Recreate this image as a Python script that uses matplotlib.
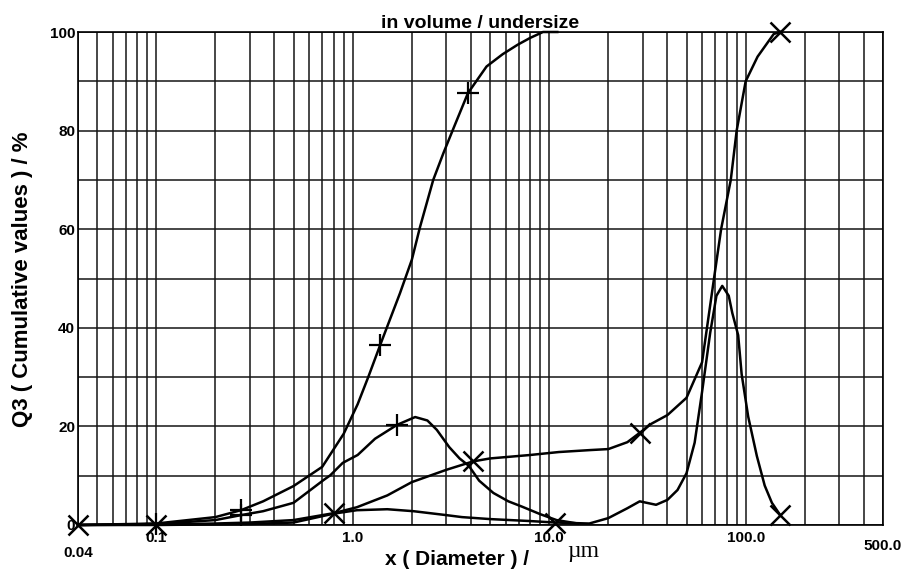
import numpy as np
import matplotlib.pyplot as plt
from matplotlib.ticker import FixedLocator, LogLocator, MultipleLocator, NullFormatter

plt.rcParams['font.family'] = ['Liberation Sans', 'DejaVu Sans']

# fine sample, cumulative (Q3)
a_x = [0.04, 0.1, 0.2, 0.27, 0.35, 0.5, 0.7, 0.9, 1.06, 1.2, 1.38, 1.74, 2.0, 2.2,
       2.57, 2.9, 3.3, 3.86, 4.8, 5.8, 6.9, 8.0, 9.3, 11.0]
a_y = [0, 0.3, 1.6, 3.0, 4.8, 7.9, 11.8, 18.5, 24.5, 30, 36.5, 47, 53.8, 60.4,
       70, 75.5, 81, 87.6, 93, 95.5, 97.4, 98.8, 100, 100]

# fine sample, density
b_x = [0.04, 0.1, 0.2, 0.27, 0.35, 0.5, 0.71, 0.77, 0.89, 1.06, 1.3, 1.68, 2.08, 2.4,
       2.68, 3.1, 3.5, 3.9, 4.4, 5.2, 6.2, 7.3, 9.0, 10.9, 14.0]
b_y = [0, 0.2, 1.0, 2.0, 2.8, 4.5, 9.1, 10.1, 12.6, 14.2, 17.5, 20.3, 21.9, 21.2,
       19.3, 15.8, 13.5, 12.0, 9.0, 6.5, 4.8, 3.7, 2.2, 1.0, 0.3]

# coarse sample, cumulative (Q3)
c_x = [0.04, 0.1, 0.2, 0.3, 0.5, 0.8, 1.05, 1.5, 2.0, 3.0, 4.1, 5.0, 8.0, 11.2, 16.2,
       20, 25, 28.9, 33, 40, 50, 60, 69, 75, 84, 90, 100, 115, 139, 150]
c_y = [0, 0.1, 0.3, 0.5, 1.0, 2.4, 3.6, 6.0, 8.7, 11.2, 12.9, 13.5, 14.2, 14.8, 15.2,
       15.4, 16.8, 18.7, 20.5, 22.3, 25.8, 33, 50, 60, 70, 80, 90, 95, 99.6, 100]

# coarse sample, density
d_x = [0.04, 0.1, 0.3, 0.5, 0.8, 1.05, 1.5, 2.04, 3.0, 3.6, 5.0, 8.0, 10.7, 16, 20, 25,
       28.9, 35, 40, 45, 50, 55, 60, 66, 71, 76, 82, 85.5, 91.6, 95.4, 103, 114, 125,
       136, 150]
d_y = [0, 0, 0.2, 0.5, 2.3, 3.0, 3.2, 2.8, 2.0, 1.6, 1.2, 0.8, 0.5, 0.3, 1.4, 3.4,
       4.8, 4.1, 5.1, 7.1, 10.5, 16.7, 27, 39, 46.5, 48.5, 46.5, 43, 38.5, 30.6, 22,
       14, 8, 4.5, 2]

# marker positions
a_mx = [0.1, 0.27, 1.38, 3.86]
a_my = [0.3, 3.0, 36.5, 87.6]
b_mx = [0.27, 1.68]
b_my = [2.0, 20.3]
c_mx = [0.04, 0.8, 4.1, 28.9, 150]
c_my = [0, 2.4, 12.9, 18.7, 100]
d_mx = [0.1, 10.7, 150]
d_my = [0, 0.5, 2]

x_ticks = [0.04, 0.1, 1.0, 10.0, 100.0, 500.0]
x_ticklabels = ['0.04', '0.1', '1.0', '10.0', '100.0', '500.0']
y_ticks = [0, 20, 40, 60, 80, 100]

fig = plt.figure(figsize=(9.06, 5.72), dpi=100)
ax = fig.add_axes([78 / 906, 1 - 525 / 572, (883 - 78) / 906, (525 - 32) / 572])

ax.set_xscale('log')
ax.set_xlim(0.04, 500)
ax.set_ylim(0, 100)

for xs, ys in [(a_x, a_y), (b_x, b_y), (c_x, c_y), (d_x, d_y)]:
    ax.plot(xs, ys, color='black', lw=1.8, clip_on=False, zorder=3)

ax.plot(a_mx, a_my, ls='none', marker='+', ms=16, mew=1.6, color='black', clip_on=False, zorder=4)
ax.plot(b_mx, b_my, ls='none', marker='+', ms=16, mew=1.6, color='black', clip_on=False, zorder=4)
ax.plot(c_mx, c_my, ls='none', marker='x', ms=15, mew=1.8, color='black', clip_on=False, zorder=4)
ax.plot(d_mx, d_my, ls='none', marker='x', ms=15, mew=1.8, color='black', clip_on=False, zorder=4)

ax.xaxis.set_major_locator(FixedLocator(x_ticks))
ax.set_xticks(x_ticks, x_ticklabels)
ax.xaxis.set_minor_locator(LogLocator(base=10, subs=np.arange(2, 10)))
ax.xaxis.set_minor_formatter(NullFormatter())
ax.set_yticks(y_ticks)
ax.yaxis.set_minor_locator(MultipleLocator(10))

ax.grid(True, which='both', color='#151515', lw=1.1)
ax.set_axisbelow(True)
ax.tick_params(which='both', length=0)
ax.tick_params(axis='x', pad=4)
ax.tick_params(axis='y', pad=2)
for lab in ax.get_xticklabels() + ax.get_yticklabels():
    lab.set_fontweight('bold')
    lab.set_fontsize(11)

xt = ax.xaxis.get_major_ticks()
xt[0].set_pad(15)
xt[-1].set_pad(10)

for s in ax.spines.values():
    s.set_color('black')
    s.set_linewidth(1.2)

ax.set_title('in volume / undersize', fontsize=14, fontweight='bold', pad=3)

fig.text(23 / 906, 1 - 279 / 572, 'Q3 ( Cumulative values ) / %', rotation=90,
         ha='center', va='center', fontsize=16, fontweight='bold')
fig.text(529 / 906, 1 - 565 / 572, 'x ( Diameter ) /', ha='right', va='baseline',
         fontsize=15, fontweight='bold')
fig.text(567 / 906, 1 - 557 / 572, 'µm', ha='left', va='baseline',
         fontsize=17, family=['Liberation Serif', 'DejaVu Serif'])

fig.savefig('out.png', dpi=100)
